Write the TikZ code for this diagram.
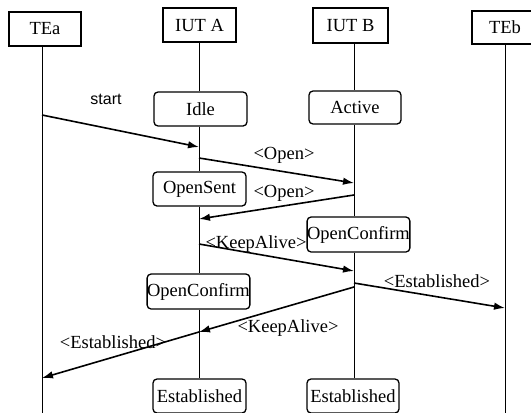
\documentclass[tikz,border=0pt]{standalone}
\usepackage{fontspec}
\setmainfont{Liberation Serif}
\newfontfamily\startfont{Liberation Sans}
\usetikzlibrary{arrows.meta}
\begin{document}
\begin{tikzpicture}[x=1pt,y=-1pt,
  every node/.style={font=\fontsize{18.5}{21}\selectfont, inner sep=0pt},
  headbox/.style={draw, line width=1.1pt, rectangle},
  statebox/.style={draw, line width=1.3pt, rounded corners=4pt},
  life/.style={line width=0.9pt},
  msg/.style={line width=1.6pt, -{Latex[length=11pt,width=7.5pt]}},
  lbl/.style={}
]
\useasboundingbox (0,0) rectangle (531,413);
\clip (0,0) rectangle (531,413);
% header boxes
\node[headbox, minimum width=72pt, minimum height=34pt] (tea) at (45,29) {TEa};
\node[headbox, minimum width=73pt, minimum height=34pt] (iuta) at (199.5,25) {IUT A};
\node[headbox, minimum width=75pt, minimum height=35pt] (iutb) at (350.5,25.5) {IUT B};
\node[headbox, minimum width=66pt, minimum height=33pt] (teb) at (505,27.5) {TEb};
% state boxes
\node[statebox, minimum width=93pt, minimum height=34pt] (idle) at (200.5,109) {Idle};
\node[statebox, minimum width=92pt, minimum height=33pt] (active) at (355,107.5) {Active};
\node[statebox, minimum width=93pt, minimum height=34pt] (opensent) at (199.5,189) {OpenSent};
\node[statebox, minimum width=101pt, minimum height=35pt] (ocb) at (358.5,234.5) {OpenConfirm};
\node[statebox, minimum width=99pt, minimum height=35pt] (oca) at (198.5,291.5) {OpenConfirm};
\node[statebox, minimum width=93pt, minimum height=34pt] (esta) at (199.5,396) {Established};
\node[statebox, minimum width=92pt, minimum height=34pt] (estb) at (353,396) {Established};
% lifeline ends
\coordinate (teaend) at (42,414);
\coordinate (tebend) at (505,414);
% lifelines
\draw[life] (tea.south -| teaend) -- (teaend);
\draw[life] (teb.south -| tebend) -- (tebend);
\draw[life] (iuta.south -| 199,0) -- (idle.north -| 199,0);
\draw[life] (idle.south -| 199,0) -- (opensent.north -| 199,0);
\draw[life] (opensent.south -| 199,0) -- (oca.north -| 199,0);
\draw[life] (oca.south -| 199,0) -- (esta.north -| 199,0);
\draw[life] (iutb.south -| 354,0) -- (active.north -| 354,0);
\draw[life] (active.south -| 354,0) -- (ocb.north -| 354,0);
\draw[life] (ocb.south -| 354,0) -- (estb.north -| 354,0);
% message points
\coordinate (m1s) at (42,115);   \coordinate (m1e) at (199,147);
\coordinate (m2s) at (199,158);  \coordinate (m2e) at (354,183);
\coordinate (m3s) at (354,195);  \coordinate (m3e) at (199,219);
\coordinate (m4s) at (199,244);  \coordinate (m4e) at (354,271);
\coordinate (m5s) at (354,283);  \coordinate (m5e) at (505,308);
\coordinate (m6s) at (354,287);  \coordinate (m6e) at (199,332);
\coordinate (m7e) at (42,378);
% messages
\draw[msg] (m1s) -- (m1e);
\draw[msg] (m2s) -- (m2e);
\draw[msg] (m3s) -- (m3e);
\draw[msg] (m4s) -- (m4e);
\draw[msg] (m5s) -- (m5e);
\draw[msg] (m6s) -- (m6e);
\draw[msg] (m6e) -- (m7e);
% labels
\node[font=\startfont\fontsize{16}{18}\selectfont] (lstart) at (106,99) {start};
\node (lopen1) at (284,155) {<Open>};
\node (lopen2) at (284,193) {<Open>};
\node (lka1) at (256,244) {<KeepAlive>};
\node (lest1) at (437,281) {<Established>};
\node (lka2) at (288,328) {<KeepAlive>};
\node (lest2) at (113,342) {<Established>};
\end{tikzpicture}
\end{document}
